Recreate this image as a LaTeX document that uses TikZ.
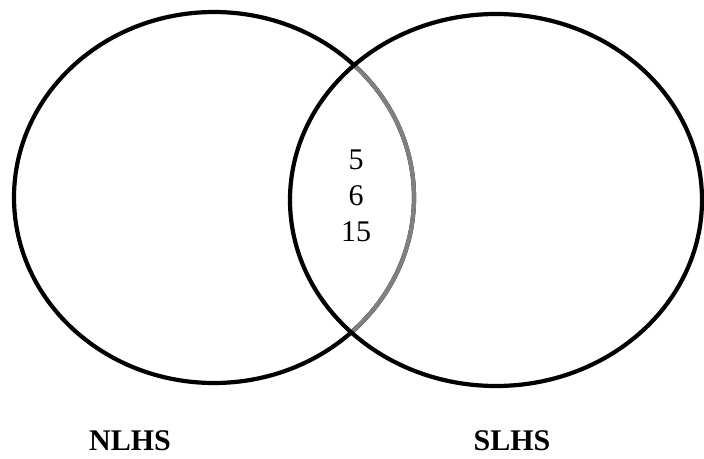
\documentclass[tikz,border=0pt]{standalone}
\usepackage{fontspec}
\setmainfont{Liberation Serif}
\usetikzlibrary{positioning}
\tikzset{ring/.style={line width=4.2pt},
	setlabel/.style={font=\fontsize{30}{36}\selectfont\bfseries},
	counts/.style={align=center,font=\fontsize{30}{36}\selectfont}}

\begin{document}
\begin{tikzpicture}[x=1pt,y=-1pt]
	\useasboundingbox (0,0) rectangle (704,458);
	% left set
	\draw[ring] (214,197.5) ellipse [x radius=200pt, y radius=185.5pt];
	% part of the left set inside the right set
	\begin{scope}
		\clip (496,200) ellipse [x radius=206pt, y radius=186pt];
		\draw[ring,gray] (214,197.5) ellipse [x radius=200pt, y radius=185.5pt];
	\end{scope}
	% right set
	\draw[ring] (496,200) ellipse [x radius=206pt, y radius=186pt];
	\node (common) at (356,196) [counts] {5\\6\\15};
	\node (nlhs) at (130,441) [setlabel] {NLHS};
	\node (slhs) at (512,441) [setlabel] {SLHS};
\end{tikzpicture}
\end{document}
